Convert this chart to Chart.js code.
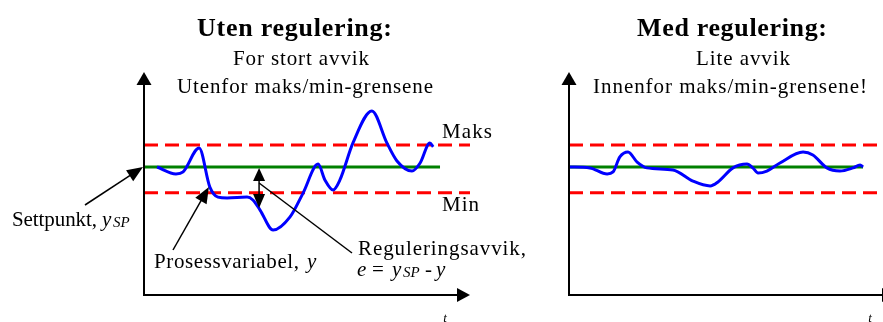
<!DOCTYPE html>
<html lang="no">
<head>
  <meta charset="UTF-8"/>
  <title>Uten regulering / Med regulering</title>
  <script src="https://cdn.jsdelivr.net/npm/chart.js"></script>
  <style>
    html, body { margin:0; padding:0; background:#fff; overflow:hidden; }
    #wrap { position:relative; width:883px; height:322px; overflow:hidden; }
    #wrap canvas { position:absolute; top:0; }
    #left { left:0; }
    #right { left:425px; }
    .pre { position:absolute; left:-999px; top:0; font-family:'Liberation Serif'; }
  </style>
</head>
<body>
<div id="wrap">
  <canvas id="left" width="560" height="322"></canvas>
  <canvas id="right" width="560" height="322"></canvas>
</div>
<span class="pre">a <b>b</b> <i>c</i></span>

<script>
  // time (0..100 along t axis) and process value (0..100 along y axis)
  const tUten = [4.0, 9.8, 12.0, 16.9, 20.2, 22.7, 25.5, 31.6, 33.4, 35.6, 39.6, 44.8, 48.8, 53.4, 55.5, 58.0, 60.1, 64.1, 69.9, 74.5, 77.6, 82.2, 84.7, 87.7, 88.7];
  const yUten = [57.4, 54.3, 55.2, 65.9, 48.4, 43.9, 43.5, 43.9, 42.6, 38.1, 29.1, 35.0, 45.7, 58.7, 51.6, 47.1, 51.6, 68.2, 82.5, 68.2, 60.1, 55.6, 59.2, 68.2, 66.4];

  const tMed = [0, 6.4, 11.7, 13.5, 15.6, 18.1, 20.9, 23.9, 31.9, 38.0, 43.3, 45.7, 50.3, 54.6, 56.4, 58.0, 60.7, 64.7, 71.8, 74.8, 79.1, 83.1, 87.1, 89.3, 90.2];
  const yMed = [57.4, 57.0, 54.3, 55.2, 61.9, 64.1, 59.6, 57.0, 56.1, 51.1, 48.9, 50.7, 57.0, 58.7, 57.0, 54.7, 55.6, 59.2, 64.1, 62.8, 57.0, 55.6, 57.0, 58.3, 57.4];

  const settpunkt = 57.4;
  const maks = 67.3;
  const min = 45.9;
  const spanSpUten = [0, 90.8];
  const spanSpMed = [0, 90.2];
  const spanGrense = [0, 100];

  const SERIF = '"Liberation Serif", "Times New Roman", serif';

  const pts = (ts, ys) => ts.map((t, i) => ({x: t, y: ys[i]}));
  const flat = (span, v) => span.map(t => ({x: t, y: v}));

  function ds(data, color, extra){
    return Object.assign({ data, borderColor: color, borderWidth: 3, pointRadius: 0,
      fill: false, clip: false, tension: 0, borderCapStyle: 'butt' }, extra || {});
  }

  // text stretched to the width it has in the picture
  function fit(ctx, str, x1, x2, base, font){
    ctx.font = font; ctx.letterSpacing = '0px';
    const w = ctx.measureText(str).width;
    ctx.letterSpacing = ((x2 - x1 - w) / Math.max(1, str.length - 1)) + 'px';
    ctx.textAlign = 'left'; ctx.textBaseline = 'alphabetic';
    ctx.fillText(str, x1, base);
    ctx.letterSpacing = '0px';
  }
  function txt(ctx, str, x, base, font){
    ctx.font = font; ctx.letterSpacing = '0px';
    ctx.textAlign = 'left'; ctx.textBaseline = 'alphabetic';
    ctx.fillText(str, x, base);
  }
  function head(ctx, x1, y1, x2, y2, len, hw){
    const a = Math.atan2(y2 - y1, x2 - x1);
    const bx = x2 - len * Math.cos(a), by = y2 - len * Math.sin(a);
    ctx.beginPath();
    ctx.moveTo(x2, y2);
    ctx.lineTo(bx + hw * Math.sin(a), by - hw * Math.cos(a));
    ctx.lineTo(bx - hw * Math.sin(a), by + hw * Math.cos(a));
    ctx.closePath(); ctx.fill();
  }
  function arrow(ctx, x1, y1, x2, y2, len, hw){
    const a = Math.atan2(y2 - y1, x2 - x1);
    ctx.beginPath(); ctx.moveTo(x1, y1);
    ctx.lineTo(x2 - (len - 2) * Math.cos(a), y2 - (len - 2) * Math.sin(a)); ctx.stroke();
    head(ctx, x1, y1, x2, y2, len, hw);
  }

  const decor = {
    id: 'decor',
    afterDraw(chart, args, o){
      const ctx = chart.ctx, a = chart.chartArea;
      const xs = chart.scales.x, ys = chart.scales.y;
      ctx.save();
      ctx.fillStyle = '#000'; ctx.strokeStyle = '#000';

      // axes with arrow heads
      ctx.lineWidth = 2;
      ctx.beginPath();
      ctx.moveTo(a.left, a.bottom); ctx.lineTo(a.left, a.top + 10);
      ctx.moveTo(a.left - 1, a.bottom); ctx.lineTo(a.right - 10, a.bottom);
      ctx.stroke();
      head(ctx, a.left, a.bottom, a.left, a.top, 13, 7.5);
      head(ctx, a.left, a.bottom, a.right, a.bottom, 13, 7);
      ctx.font = "italic 13px " + SERIF;
      ctx.textAlign = 'center';
      ctx.fillText('t', a.right - 25, 322);

      // titles
      const T = o.titles;
      fit(ctx, T[0], T[1], T[2], 36, "bold 26px " + SERIF);
      fit(ctx, T[3], T[4], T[5], 65, "21px " + SERIF);
      fit(ctx, T[6], T[7], T[8], 93, "21px " + SERIF);

      if (o.notes) {
        const R = "21px " + SERIF, I = "italic 21px " + SERIF, S = "italic 15px " + SERIF;
        fit(ctx, 'Maks', 442, 492, 138, R);
        fit(ctx, 'Min', 442, 479, 211, R);

        fit(ctx, 'Settpunkt,', 12, 97, 226, R);
        txt(ctx, 'y', 102, 226, I);
        txt(ctx, 'SP', 113, 227, S);

        fit(ctx, 'Prosessvariabel,', 154, 299, 268, R);
        txt(ctx, 'y', 307, 268, I);

        fit(ctx, 'Reguleringsavvik,', 358, 526, 255, R);
        txt(ctx, 'e', 357, 276, I);
        txt(ctx, '=', 372, 276, R);
        txt(ctx, 'y', 392, 276, I);
        txt(ctx, 'SP', 403, 277, S);
        txt(ctx, '-', 425, 276, R);
        txt(ctx, 'y', 436, 276, I);

        ctx.lineWidth = 1.5;
        const spY = ys.getPixelForValue(settpunkt);
        arrow(ctx, 85, 205, a.left - 1, spY, 16, 6.5);
        arrow(ctx, 173, 250, xs.getPixelForValue(19.9), ys.getPixelForValue(48.4), 16, 6.5);

        // error e between setpoint and process value
        const ex = xs.getPixelForValue(35.3);
        const top = spY + 1, bot = ys.getPixelForValue(39.0);
        ctx.beginPath(); ctx.moveTo(ex, top + 10); ctx.lineTo(ex, bot - 10); ctx.stroke();
        head(ctx, ex, bot, ex, top, 13, 6);
        head(ctx, ex, top, ex, bot, 14, 6);
        ctx.beginPath(); ctx.moveTo(ex, top + 15); ctx.lineTo(352, 253); ctx.stroke();
      }
      ctx.restore();
    }
  };

  function makeChart(id, t, y, spSpan, titles, notes){
    return new Chart(document.getElementById(id), {
      type: 'line',
      data: { datasets: [
        ds(pts(t, y), '#0000ff', { cubicInterpolationMode: 'monotone' }),
        ds(flat(spSpan, settpunkt), '#008000'),
        ds(flat(spanGrense, maks), '#ff0000', { borderDash: [14, 7] }),
        ds(flat(spanGrense, min), '#ff0000', { borderDash: [14, 7] })
      ]},
      options: {
        responsive: false, animation: false, events: [],
        layout: { padding: { left: 144, top: 72, right: 90, bottom: 27 } },
        scales: {
          x: { type: 'linear', min: 0, max: 100, display: false },
          y: { type: 'linear', min: 0, max: 100, display: false }
        },
        plugins: { legend: { display: false }, tooltip: { enabled: false },
          decor: { titles, notes } }
      },
      plugins: [decor]
    });
  }

  function draw(){
    makeChart('left', tUten, yUten, spanSpUten,
      ['Uten regulering:', 197, 392, 'For stort avvik', 233, 369, 'Utenfor maks/min-grensene', 177, 433], true);
    makeChart('right', tMed, yMed, spanSpMed,
      ['Med regulering:', 212, 402, 'Lite avvik', 271, 365, 'Innenfor maks/min-grensene!', 168, 442], false);
  }

  Promise.all([
    document.fonts.load('21px "Liberation Serif"'),
    document.fonts.load('bold 26px "Liberation Serif"'),
    document.fonts.load('italic 21px "Liberation Serif"')
  ]).then(draw, draw);
</script>
</body>
</html>
